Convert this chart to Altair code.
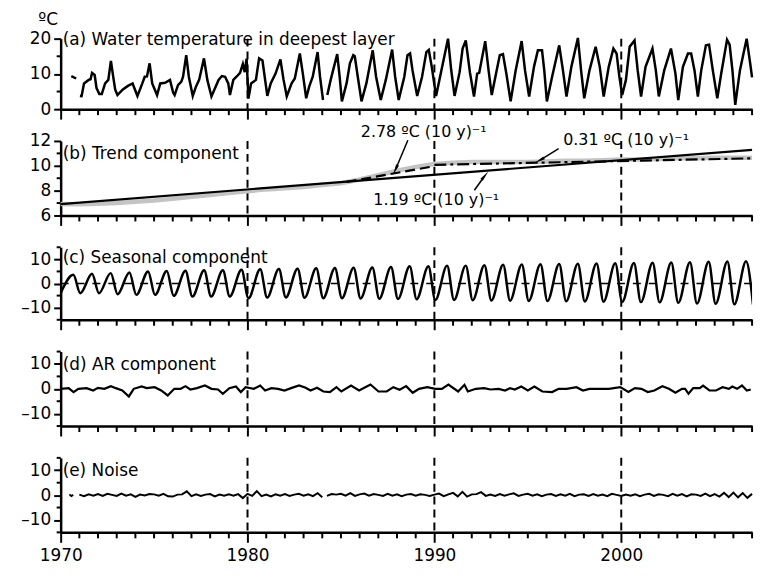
import altair as alt
import pandas as pd

# ---------------- data ----------------
decades = [1980, 1990, 2000]
x_major = [1970, 1980, 1990, 2000]
x_minor = [y for y in range(1971, 2008) if y % 10 != 0]

# (a) water temperature in deepest layer
temp_year = [1970.57, 1970.83,
             1971.03, 1971.12, 1971.25, 1971.5, 1971.6, 1971.68, 1971.82, 1971.92, 1972.07, 1972.2,
             1972.38, 1972.55, 1972.69, 1972.81, 1972.92, 1973.04, 1973.33, 1973.6, 1973.85, 1974.11,
             1974.37, 1974.5, 1974.62, 1974.76, 1974.9, 1975.16, 1975.33, 1975.59, 1975.85, 1976.02,
             1976.1, 1976.28, 1976.46, 1976.55, 1976.72, 1976.86, 1977.07, 1977.24, 1977.41, 1977.67,
             1977.85, 1978.07, 1978.3, 1978.45, 1978.63, 1978.8, 1978.97, 1979.06, 1979.24, 1979.41,
             1979.6, 1979.75, 1979.85, 1979.95, 1980.05, 1980.19, 1980.45, 1980.62, 1980.8, 1981.06,
             1981.24, 1981.5, 1981.76, 1981.93, 1982.1, 1982.36, 1982.53, 1982.8, 1982.96, 1983.14,
             1983.3, 1983.49, 1983.75, 1983.88, 1984.04,
             1984.27, 1984.45, 1984.8, 1984.93, 1985.05, 1985.3, 1985.48, 1985.66, 1985.74, 1985.9,
             1986.1, 1986.36, 1986.53, 1986.7, 1986.88, 1987.13, 1987.4, 1987.74, 1987.9, 1988.09,
             1988.39, 1988.56, 1988.7, 1988.83, 1989.08, 1989.34, 1989.57, 1989.7, 1989.86, 1990.09,
             1990.38, 1990.73, 1990.9, 1991.08, 1991.35, 1991.51, 1991.68, 1991.9, 1992.12, 1992.29,
             1992.4, 1992.72, 1992.9, 1993.07, 1993.3, 1993.5, 1993.67, 1993.85, 1994.08, 1994.35,
             1994.67, 1994.85, 1995.07, 1995.33, 1995.54, 1995.76, 1995.88, 1996.02, 1996.3, 1996.68,
             1996.88, 1997.07, 1997.33, 1997.68, 1997.85, 1998.02, 1998.3, 1998.63, 1998.85, 1999.06,
             1999.33, 1999.58, 1999.75, 1999.9, 2000.05, 2000.25, 2000.45, 2000.71, 2000.88, 2001.06,
             2001.3, 2001.67, 2001.85, 2002.01, 2002.3, 2002.66, 2002.9, 2003.05, 2003.3, 2003.57,
             2003.74, 2003.92, 2004.1, 2004.28, 2004.53, 2004.7, 2004.9, 2005.14, 2005.35, 2005.66,
             2005.8, 2005.95, 2006.1, 2006.35, 2006.71, 2006.9, 2007.0]
temp_value = [9.4, 8.7,
              3.75, 3.7, 7.3, 8.3, 8.5, 10.3, 9.7, 6.0, 4.3, 4.3,
              7.3, 8.3, 13.7, 9.3, 5.5, 4.0, 5.6, 6.6, 7.3, 3.75,
              7.3, 9.2, 9.3, 13.0, 7.3, 4.0, 7.3, 7.5, 8.3, 4.7,
              4.0, 6.8, 7.8, 9.2, 15.3, 9.2, 3.75, 6.4, 8.3, 14.4,
              8.3, 3.6, 6.4, 8.3, 9.4, 9.2, 7.3, 4.0, 8.3, 9.2,
              10.3, 12.8, 10.5, 14.3, 3.0, 7.3, 8.3, 14.4, 13.8, 3.75,
              7.3, 10.1, 14.1, 8.3, 3.6, 7.3, 8.7, 15.8, 10.1, 3.1,
              6.4, 9.2, 16.2, 9.2, 2.6,
              4.0, 8.3, 15.6, 9.2, 2.2, 7.3, 13.0, 15.3, 15.0, 9.2,
              2.2, 7.3, 12.0, 16.7, 9.2, 2.6, 8.3, 16.9, 9.2, 2.6,
              9.2, 15.3, 15.8, 11.0, 3.75, 9.2, 16.2, 16.8, 12.0, 3.75,
              11.1, 20.0, 11.1, 3.75, 10.5, 17.2, 19.5, 10.5, 3.6, 10.1,
              10.3, 19.3, 11.0, 4.0, 10.1, 15.3, 15.6, 10.1, 2.2, 11.0,
              19.3, 11.0, 3.6, 12.0, 16.7, 16.7, 11.0, 2.2, 9.2, 18.1,
              11.0, 3.6, 12.0, 20.2, 11.0, 3.1, 11.0, 17.7, 12.0, 3.6,
              12.0, 17.2, 15.8, 9.2, 4.0, 8.3, 17.7, 19.5, 11.0, 3.6,
              12.0, 17.2, 11.0, 3.6, 11.0, 17.2, 10.1, 2.6, 12.0, 15.8,
              15.8, 11.0, 3.6, 11.0, 18.1, 18.3, 11.0, 3.1, 10.1, 19.7,
              18.3, 11.0, 1.2, 11.0, 20.0, 13.0, 9.0]
gap_breaks = [1970.9, 1984.15]   # missing observations

# (b) trend component
trend_year = list(range(1970, 2008))
trend_value = [6.92, 6.9, 6.95, 7.0, 7.1, 7.2, 7.35, 7.5, 7.65, 7.8,
               7.95, 8.1, 8.2, 8.3, 8.45, 8.6, 8.9, 9.25, 9.6, 9.9,
               10.15, 10.25, 10.3, 10.3, 10.3, 10.3, 10.35, 10.4, 10.4, 10.45,
               10.5, 10.5, 10.55, 10.6, 10.6, 10.65, 10.65, 10.65]
lin_year = [1970, 2007]
lin_value = [6.92, 11.28]          # 1.19 C per 10 y
fast_year = [1985.3, 1990.0]
fast_value = [8.7, 9.97]           # 2.78 C per 10 y
slow_year = [1990.0, 2007.0]
slow_value = [10.08, 10.6]         # 0.31 C per 10 y

# (c) seasonal component: troughs (1970-2007) and peaks (1970-2006)
seas_trough = [-4.0, -4.0, -4.0, -4.4, -4.7, -4.7, -5.1, -5.4, -5.4, -5.4,
               -6.1, -5.8, -5.8, -5.9, -6.1, -6.1, -6.2, -6.3, -6.4, -6.5,
               -6.8, -6.8, -6.9, -7.0, -7.1, -7.2, -7.2, -7.3, -7.4, -7.5,
               -7.6, -7.7, -7.8, -8.0, -8.3, -8.4, -8.6, -8.7]
seas_peak = [3.6, 4.0, 4.3, 4.6, 5.0, 5.2, 5.3, 5.5, 5.5, 5.7,
             5.9, 6.0, 6.1, 6.3, 6.4, 6.5, 6.6, 6.8, 7.1, 7.1,
             7.4, 7.4, 7.6, 7.8, 7.9, 8.0, 8.1, 8.2, 8.3, 8.4,
             8.5, 8.6, 8.7, 8.8, 9.0, 9.1, 9.2]
trough_phase, peak_phase = 0.05, 0.68

# (d) AR component
ar_year = [1970.0, 1970.43, 1970.69, 1970.95, 1971.39, 1971.74, 1972.0, 1972.34, 1972.69, 1972.95,
           1973.3, 1973.65, 1973.91, 1974.34, 1974.6, 1975.03, 1975.38, 1975.73, 1976.08, 1976.42,
           1976.68, 1976.94, 1977.29, 1977.72, 1978.07, 1978.42, 1978.68, 1979.03, 1979.38, 1979.64,
           1979.9, 1980.33, 1980.68, 1980.94, 1981.28, 1981.63, 1981.98, 1982.33, 1982.76, 1983.11,
           1983.37, 1983.72, 1984.06, 1984.41, 1984.76, 1985.02, 1985.54, 1985.97, 1986.58, 1987.01,
           1987.45, 1987.8, 1988.14, 1988.49, 1988.84, 1989.18, 1989.62, 1990.05, 1990.4, 1990.75,
           1991.27, 1991.61, 1991.79, 1992.22, 1992.66, 1993.0, 1993.44, 1993.78, 1994.05, 1994.3,
           1994.65, 1995.0, 1995.35, 1995.78, 1996.3, 1996.65, 1997.08, 1997.6, 1997.95, 1998.3,
           1998.82, 1999.34, 1999.95, 2000.38, 2000.73, 2001.08, 2001.42, 2001.77, 2002.2, 2002.55,
           2002.9, 2003.25, 2003.42, 2003.6, 2003.85, 2004.2, 2004.38, 2004.72, 2005.07, 2005.42,
           2005.76, 2005.94, 2006.2, 2006.46, 2006.72, 2006.93]
ar_value = [0, 0.27, -1.3, 0, 0.27, -0.67, 0.4, 0, 1.07, 0.27,
            -0.67, -3.07, 0, 0.93, 0.27, 0.67, -0.67, -2.67, 0, 0,
            1.07, -0.27, 0.27, 1.33, 0, -0.27, -2.0, 0.27, 0.93, -1.3,
            0.67, 0, 1.33, -0.67, 0.27, 0, -0.67, 0.27, 1.33, 0.4,
            -0.67, 0.4, -1.07, -1.3, 0.67, -1.07, 1.33, -0.67, 1.73, -1.07,
            -1.07, 0.67, -0.4, 1.07, -1.6, 0, 0.67, 0, 0, 1.73,
            -1.07, 1.6, -1.07, 0, 0.27, -0.27, 0, -0.67, 0.27, -0.27,
            0.93, -0.67, 0.93, -1.07, -1.3, 0, 0, 0.67, -0.67, 0,
            0, 0, 0.67, -1.3, 0.27, 0, -1.3, -0.67, 1.07, 0,
            -1.6, 0, 0, -2.0, 0.27, 0.27, 1.33, -0.67, -0.67, 0.67,
            0, 0.93, 0, 1.33, -0.67, -0.27]

# (e) noise: three observed stretches, quarterly after 1971
noise0_year = [1970.47, 1970.57, 1970.67]
noise0_value = [0.3, -0.4, 0.1]
noise1_start = 1971.0
noise1_value = [0.2, -0.4, 0.3, -0.2, 0.4, -0.3, 0.5, 0.1, -0.3, 0.6, -0.2, 0.3,
                -0.7, 0.2, -0.1, 0.4, 0.3, -0.2, 0.5, -0.5, -0.6, 0.2, 0.3, 1.5,
                -0.4, 0.3, -0.3, 0.2, 0.4, -0.5, 0.2, -0.2, 0.3, -0.2, 0.4, -1.2,
                0.5, -0.3, 1.6, -0.4, 0.2, -0.5, 0.3, -0.2, 0.4, -0.3, 0.2, 0.5,
                -0.2, 0.3, -0.4, 0.8, -0.9]
noise2_start = 1984.25
noise2_value = [-0.3, 0.4, 0.2,
                0.5, -0.2, 0.8, -0.3, 0.3, 0.6, -0.2, 0.4, 0.1, -0.3, 0.5, -0.2,
                0.3, -0.4, 0.2, 0.4, -0.2, 0.3, 0.1, -0.3, 0.2, 0.6, -0.4, 0.3,
                0.9, -0.5, 1.3, -0.6, 0.3, 0.4, 1.2, -0.3, 0.2, -0.3, 0.4, -0.2,
                0.3, 0.7, -0.3, 0.2, 0.5, -0.2, 0.3, -0.4, 0.2, 0.4, -0.3, 0.3,
                -0.2, 0.5, -0.4, 0.2, 0.3, -0.3, 0.4, -0.2, 0.2, -0.4, 0.5, 0.1,
                -0.3, 0.2, -0.2, 0.3, -0.4, 0.2, 0.5, -0.3, 0.3, 0.1, -0.4, 0.5,
                -0.2, 0.4, -0.5, 0.3, 0.2, -0.3, 0.6, -0.4, 0.4, -0.6, 0.9, -0.8,
                1.0, -0.9, 0.8, -1.1, 0.5]
noise_step = 0.25

panel_titles = ["(a) Water temperature in deepest layer", "(b) Trend component",
                "(c) Seasonal component", "(d) AR component", "(e) Noise"]

# annotations of panel (b): text centre, arrow start, arrow end (data coordinates)
ann_text = ["2.78 ºC (10 y)⁻¹", "0.31 ºC (10 y)⁻¹", "1.19 ºC (10 y)⁻¹"]
ann_x = [1989.43, 2000.26, 1990.1]
ann_y = [12.73, 12.08, 7.22]
arr_x = [1988.58, 1996.65, 1992.14]
arr_y = [12.06, 11.38, 8.03]
arr_x2 = [1987.95, 1995.7, 1992.65]
arr_y2 = [9.8, 10.5, 9.1]
arr_ang = [205, 242, 39]

# ---------------- build tables ----------------
def seg_of(y):
    return sum(1 for b in gap_breaks if y > b)

temp_df = pd.DataFrame({"year": temp_year, "value": temp_value,
                        "seg": [seg_of(y) for y in temp_year]})
trend_df = pd.DataFrame({"year": trend_year, "value": trend_value})
lin_df = pd.DataFrame({"year": lin_year, "value": lin_value})
fast_df = pd.DataFrame({"year": fast_year, "value": fast_value})
slow_df = pd.DataFrame({"year": slow_year, "value": slow_value})

s_year = [1970.0] + [y + trough_phase for y in range(1971, 2008)] + [y + peak_phase for y in range(1970, 2007)]
s_val = seas_trough + seas_peak
seas_df = pd.DataFrame({"year": s_year, "value": s_val}).sort_values("year")
ar_df = pd.DataFrame({"year": ar_year, "value": ar_value})

n_year = list(noise0_year) + [noise1_start + noise_step * i for i in range(len(noise1_value))] \
    + [noise2_start + noise_step * i for i in range(len(noise2_value))]
n_val = noise0_value + noise1_value + noise2_value
n_seg = [0] * len(noise0_value) + [1] * len(noise1_value) + [2] * len(noise2_value)
noise_df = pd.DataFrame({"year": n_year, "value": n_val, "seg": n_seg})

dec_df = pd.DataFrame({"year": decades})
xminor_df = pd.DataFrame({"year": x_minor})
zero_df = pd.DataFrame({"value": [0]})
ann_df = pd.DataFrame({"year": ann_x, "value": ann_y, "label": ann_text})
arr_df = pd.DataFrame({"year": arr_x, "value": arr_y, "year2": arr_x2, "value2": arr_y2})
head_df = pd.DataFrame({"year": arr_x2, "value": arr_y2, "ang": arr_ang})

# ---------------- encodings ----------------
FONT = "DejaVu Sans"
FS = 17
W = 696
xs = alt.Scale(domain=[1970, 2007], nice=False, zero=False)


def x_enc(show):
    ax = alt.Axis(values=x_major, format="d", labels=show, labelFlush=False,
                  labelOverlap=False, labelPadding=5, grid=False, title=None, tickSize=10)
    return alt.X("year:Q", scale=xs, axis=ax)


def y_enc(domain, major, title=None):
    kw = dict(values=major, labelOverlap=False, labelPadding=3, grid=False, tickSize=7,
              labelExpr="datum.value < 0 ? '–' + abs(datum.value) : datum.label")
    if title:
        kw.update(title=title, titleAngle=0, titleX=-13, titleY=-14, titleAlign="center",
                  titleBaseline="alphabetic")
    else:
        kw["title"] = None
    return alt.Y("value:Q", scale=alt.Scale(domain=domain, nice=False, zero=False), axis=alt.Axis(**kw))


def frame_layers(X, Y, H, y_minor):
    dec = alt.Chart(dec_df).mark_rule(color="black", strokeWidth=2, strokeDash=[8, 5]).encode(x=X)
    xt = alt.Chart(xminor_df).mark_rule(color="black", strokeWidth=2).encode(
        x=X, y=alt.value(H), y2=alt.value(H + 6))
    yt = alt.Chart(pd.DataFrame({"value": y_minor})).mark_rule(color="black", strokeWidth=2).encode(
        y=Y, x=alt.value(0), x2=alt.value(-4))
    return [dec, xt, yt]


def ptitle(i, dy):
    return alt.Chart(pd.DataFrame({"label": [panel_titles[i]]})).mark_text(
        align="left", baseline="alphabetic", font=FONT, fontSize=FS, color="black"
    ).encode(x=alt.value(2), y=alt.value(dy), text="label:N")


Xh = x_enc(False)
Xs = x_enc(True)
HA, HB, HC, HD, HE = 71, 75, 73, 75, 75

# (a)
Ya = y_enc([0, 20], [0, 10, 20], title="ºC")
pa = alt.layer(
    *frame_layers(Xh, Ya, HA, [5, 15]),
    alt.Chart(temp_df).mark_line(color="black", strokeWidth=2.5).encode(x=Xh, y=Ya, detail="seg:N"),
    ptitle(0, 6),
).properties(width=W, height=HA)

# (b)
Yb = y_enc([6, 12], [6, 8, 10, 12])
pb = alt.layer(
    *frame_layers(Xh, Yb, HB, [7, 9, 11]),
    alt.Chart(trend_df).mark_line(color="#c4c4c4", strokeWidth=4.5).encode(x=Xh, y=Yb),
    alt.Chart(lin_df).mark_line(color="black", strokeWidth=2.2).encode(x=Xh, y=Yb),
    alt.Chart(fast_df).mark_line(color="black", strokeWidth=2.2, strokeDash=[10, 5]).encode(x=Xh, y=Yb),
    alt.Chart(slow_df).mark_line(color="black", strokeWidth=2.2, strokeDash=[12, 4, 3, 4]).encode(x=Xh, y=Yb),
    alt.Chart(arr_df).mark_rule(color="black", strokeWidth=1.5).encode(
        x=Xh, y=Yb, x2="year2:Q", y2="value2:Q"),
    alt.Chart(head_df).mark_point(shape="wedge", filled=True, size=160, color="black", opacity=1).encode(
        x=Xh, y=Yb, angle=alt.Angle("ang:Q", scale=None)),
    alt.Chart(ann_df).mark_text(font=FONT, fontSize=16, color="black", baseline="middle").encode(
        x=Xh, y=Yb, text="label:N"),
    ptitle(1, 18.5),
).properties(width=W, height=HB)

# (c)
Yc = y_enc([-15, 15], [-10, 0, 10])
pc = alt.layer(
    *frame_layers(Xh, Yc, HC, [-15, -5, 5, 15]),
    alt.Chart(zero_df).mark_rule(color="black", strokeWidth=1.5, strokeDash=[8, 8]).encode(y=Yc),
    alt.Chart(seas_df).mark_line(color="black", strokeWidth=2.5, interpolate="monotone", clip=True).encode(x=Xh, y=Yc),
    ptitle(2, 16),
).properties(width=W, height=HC)

# (d)
Yd = y_enc([-15, 15], [-10, 0, 10])
pd_ = alt.layer(
    *frame_layers(Xh, Yd, HD, [-15, -5, 5, 15]),
    alt.Chart(ar_df).mark_line(color="black", strokeWidth=2.2).encode(x=Xh, y=Yd),
    ptitle(3, 18.5),
).properties(width=W, height=HD)

# (e)
Ye = y_enc([-15, 15], [-10, 0, 10])
pe = alt.layer(
    *frame_layers(Xs, Ye, HE, [-15, -5, 5, 15]),
    alt.Chart(noise_df).mark_line(color="black", strokeWidth=2).encode(x=Xs, y=Ye, detail="seg:N"),
    ptitle(4, 18.5),
).properties(width=W, height=HE)

chart = alt.vconcat(pa, pb, pc, pd_, pe, spacing=32, bounds="flush").properties(
    padding={"left": 12, "top": 1, "right": 0, "bottom": 0}
).configure_view(stroke=None).configure_axis(
    domainColor="black", domainWidth=2.5, tickColor="black", tickWidth=2,
    labelColor="black", labelFont=FONT, labelFontSize=FS,
    titleFont=FONT, titleFontSize=FS, titleColor="black", titleFontWeight="normal",
)

chart.save("out.html", embed_options={"renderer": "svg", "actions": False})
